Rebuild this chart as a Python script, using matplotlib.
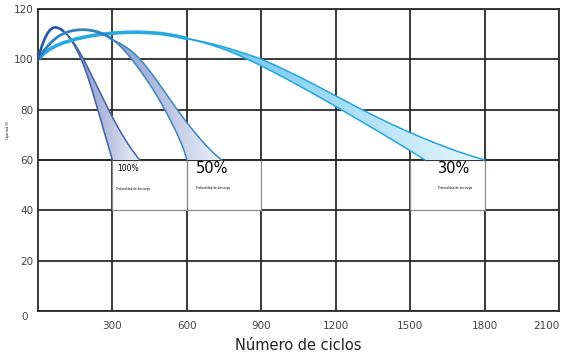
import numpy as np
import matplotlib
matplotlib.use("Agg")
from matplotlib import pyplot as plt
from matplotlib.colors import LinearSegmentedColormap
from matplotlib.patches import Rectangle
import matplotlib.transforms as mtransforms

# ---- data ----
x_ticks = [300, 600, 900, 1200, 1500, 1800, 2100]
y_ticks = [0, 20, 40, 60, 80, 100, 120]

# 100% depth of discharge: rising part, then inner and outer edge of the band
r100_x = [0, 10, 20, 30, 40, 50, 60, 70, 80, 90, 100]
r100_y = [100, 103.6, 106.5, 108.8, 110.6, 111.8, 112.5, 112.7, 112.5, 112.1, 111.4]
in100_x = [100, 110, 120, 130, 140, 150, 160, 170, 180, 190, 200, 210, 220,
           230, 240, 250, 260, 270, 280, 290, 300]
in100_y = [111.4, 110.5, 109.4, 108.1, 106.6, 104.9, 103, 100.9, 98.6, 96.0,
           93.2, 90.2, 87.0, 83.7, 80.3, 76.9, 73.5, 70.1, 66.7, 63.3, 60]
out100_x = [100, 110, 120, 130, 140, 150, 160, 170, 180, 190, 200, 220, 240,
            260, 280, 300, 320, 340, 360, 380, 400, 410]
out100_y = [111.4, 110.6, 109.6, 108.5, 107.2, 105.8, 104.2, 102.5, 100.7, 98.8,
            96.9, 92.9, 88.9, 84.9, 80.9, 77, 73.4, 70, 66.8, 63.9, 61.2, 60]

# 50%
r50_x = [0, 20, 40, 60, 80, 100, 120, 140, 160, 180, 200, 220, 240, 260, 280, 300]
r50_y = [100, 102.9, 105.4, 107.4, 109, 110.1, 110.9, 111.4, 111.7, 111.8,
         111.7, 111.4, 110.9, 110.2, 109.2, 107.8]
in50_x = [300, 320, 340, 360, 380, 400, 420, 440, 460, 480, 500, 520, 540,
          560, 580, 590, 600]
in50_y = [107.8, 106.3, 104.4, 102.2, 99.7, 97.1, 94.4, 91.6, 88.6, 85.4, 82.0,
          78.4, 74.6, 70.6, 66.0, 63.4, 60]
out50_x = [300, 320, 340, 360, 380, 400, 420, 440, 460, 480, 500, 520, 540,
           560, 580, 600, 620, 640, 660, 680, 700, 720, 740]
out50_y = [107.8, 106.9, 105.8, 104.5, 103.0, 101.2, 99.1, 96.7, 94.1, 91.4,
           88.6, 85.8, 83.0, 80.2, 77.5, 74.9, 72.4, 70.0, 67.7, 65.5, 63.5,
           61.7, 60]

# 30%
r30_x = [0, 25, 50, 75, 100, 150, 200, 250, 300, 350, 400, 450, 500, 550, 600]
r30_y = [100, 102.4, 104.2, 105.5, 106.5, 108.0, 109.1, 109.9, 110.4, 110.7,
         110.8, 110.6, 110.2, 109.4, 108.3]
in30_x = [600, 650, 700, 750, 800, 850, 900, 950, 1000, 1050, 1100, 1150, 1200,
          1250, 1300, 1350, 1400, 1450, 1500, 1560]
in30_y = [108.3, 107.1, 105.7, 104.0, 102.0, 99.8, 97.4, 94.9, 92.3, 89.6, 86.9,
          84.1, 81.3, 78.4, 75.5, 72.6, 69.7, 66.7, 63.7, 60]
out30_x = [600, 650, 700, 750, 800, 850, 900, 950, 1000, 1050, 1100, 1150, 1200,
           1250, 1300, 1350, 1400, 1450, 1500, 1550, 1600, 1650, 1700, 1750, 1800]
out30_y = [108.3, 107.3, 106.2, 104.9, 103.4, 101.8, 100.1, 97.9, 95.6, 93.2,
           90.7, 88.1, 85.5, 82.9, 80.3, 77.8, 75.4, 73.1, 70.9, 68.8, 66.8,
           64.9, 63.1, 61.5, 60]

labels = ["100%", "50%", "30%"]
note = "Profundidad de descarga"

fig = plt.figure(figsize=(5.62, 3.55), dpi=100)
ax = fig.add_axes([38 / 562, 44 / 355, 521 / 562, 302 / 355])
ax.set_xlim(0, 2100)
ax.set_ylim(0, 120)

grid_c = "#2b2b2b"
ax.set_xticks(x_ticks)
ax.set_yticks(y_ticks)
ax.grid(True, color=grid_c, linewidth=1.3, zorder=1)
ax.set_axisbelow(True)
for s in ax.spines.values():
    s.set_color(grid_c)
    s.set_linewidth(1.3)
ax.tick_params(length=0, labelsize=7.5, labelcolor="#444444")
ax.tick_params(axis="x", pad=7)
ax.tick_params(axis="y", pad=3)
xl = ax.get_xticklabels()
xl[-1].set_ha("right")
yl = ax.get_yticklabels()
yl[0].set_transform(yl[0].get_transform() +
                    mtransforms.ScaledTranslation(-0.06, -0.05, fig.dpi_scale_trans))
ax.set_xlabel("Número de ciclos", fontsize=10.5, color="#222222", labelpad=5)
fig.text(8 / 562, 1 - 130 / 355, "Capacidad (%)", rotation=90, fontsize=1.8,
         ha="center", va="center")

# white label boxes below the 60 line
for x0 in (300, 600, 1500):
    ax.add_patch(Rectangle((x0, 40), 300, 20, facecolor="white",
                           edgecolor="#8a8a8a", linewidth=0.9, zorder=2))
ax.axhline(60, color=grid_c, linewidth=1.3, zorder=2.5)


def band(rx, ry, ix, iy, ox, oy, c_rise, c_edge, c_dark, c_light, lw):
    px = ix + ox[::-1]
    py = iy + oy[::-1]
    poly = ax.fill(px, py, facecolor="none", edgecolor="none", zorder=3)[0]
    cmap = LinearSegmentedColormap.from_list("g", [c_dark, c_light])
    grad = np.linspace(0, 1, 256).reshape(1, -1)
    im = ax.imshow(grad, cmap=cmap, aspect="auto", zorder=3,
                   extent=[min(px), max(px), min(py), max(py)], origin="lower")
    im.set_clip_path(poly)
    ax.plot(ix, iy, color=c_edge, linewidth=1.1, zorder=4)
    ax.plot(ox, oy, color=c_edge, linewidth=1.1, zorder=4)
    ax.plot(rx, ry, color=c_rise, linewidth=lw, zorder=5,
            solid_capstyle="round")


band(r30_x, r30_y, in30_x, in30_y, out30_x, out30_y,
     "#27a8e0", "#22a6df", "#5ec0ec", "#eaf7fd", 2.6)
band(r50_x, r50_y, in50_x, in50_y, out50_x, out50_y,
     "#2e82c2", "#3b86be", "#8799cf", "#eef2fa", 2.0)
band(r100_x, r100_y, in100_x, in100_y, out100_x, out100_y,
     "#2d5aa5", "#3f62a8", "#7081c0", "#eceef8", 2.0)
ax.set_xlim(0, 2100)
ax.set_ylim(0, 120)

ax.text(318, 56.6, labels[0], fontsize=5.5, ha="left", va="center", zorder=6)
ax.text(637, 56.8, labels[1], fontsize=10.5, ha="left", va="center", zorder=6)
ax.text(1612, 56.8, labels[2], fontsize=10.5, ha="left", va="center", zorder=6)
ax.text(316, 48.4, note, fontsize=2, ha="left", va="center", zorder=6)
ax.text(637, 48.8, note, fontsize=2, ha="left", va="center", zorder=6)
ax.text(1612, 48.8, note, fontsize=2, ha="left", va="center", zorder=6)

fig.savefig("out.png", dpi=100)
